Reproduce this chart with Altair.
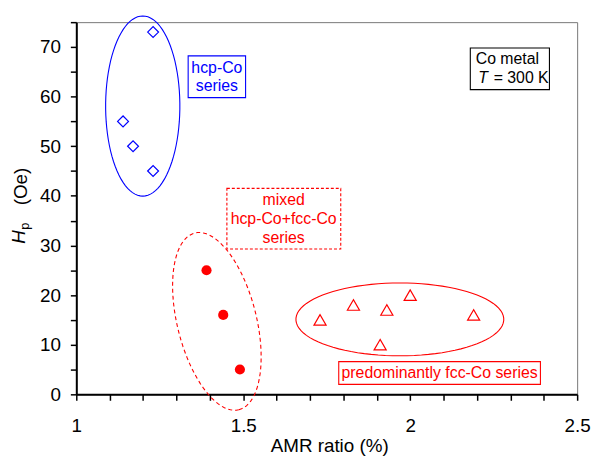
import math
import altair as alt
import pandas as pd

# ---------------- data ----------------
hcp_x = [1.23, 1.14, 1.17, 1.23]
hcp_y = [73, 55, 50, 45]
mixed_x = [1.39, 1.44, 1.49]
mixed_y = [25, 16, 5]
fcc_x = [1.73, 1.83, 1.93, 1.91, 2.00, 2.19]
fcc_y = [15, 18, 17, 10, 20, 16]

x_ticks = [round(1 + 0.1 * i, 1) for i in range(16)]
y_ticks = list(range(0, 80, 5))

X_DOM = [1, 2.5]
Y_DOM = [0, 75]
W, H = 506, 376
SX = W / (X_DOM[1] - X_DOM[0])   # px per x unit
SY = H / (Y_DOM[1] - Y_DOM[0])   # px per y unit

BLUE = "#0000ff"
RED = "#ff0000"
FONT = "Liberation Sans"


def ellipse(name, cx, cy, ax_px, ay_px, tilt_deg=0.0, n=90):
    rows = []
    phi = math.radians(tilt_deg)
    for i in range(n + 1):
        t = 2 * math.pi * i / n
        u = ay_px * math.cos(t)
        v = ax_px * math.sin(t)
        dx = u * math.sin(phi) + v * math.cos(phi)
        dy = u * math.cos(phi) - v * math.sin(phi)   # screen down
        rows.append({"name": name, "i": i, "x": cx + dx / SX, "y": cy - dy / SY})
    return rows


blue_ell = pd.DataFrame(ellipse("hcp", 1.199, 58.1, 37.5, 91.0))
fcc_ell = pd.DataFrame(ellipse("fcc", 1.969, 15.1, 105.0, 36.8))
mix_ell = pd.DataFrame(ellipse("mix", 1.421, 14.7, 40.0, 92.0, tilt_deg=14))

hcp_df = pd.DataFrame({"x": hcp_x, "y": hcp_y})
mix_df = pd.DataFrame({"x": mixed_x, "y": mixed_y})
fcc_df = pd.DataFrame({"x": fcc_x, "y": fcc_y})

xaxis = alt.Axis(
    values=x_ticks, title=None, grid=False, labelFlush=False, labelOverlap=False,
    labelExpr="abs(datum.value*2 - round(datum.value*2)) < 0.000001 ? toString(datum.value) : ''",
    domainColor="black", domainWidth=2, tickColor="black", tickWidth=1.5, tickSize=6,
    labelFont=FONT, labelFontSize=19, labelColor="black", labelPadding=17,
)
yaxis = alt.Axis(
    values=y_ticks, title=None, grid=False, labelOverlap=False,
    labelExpr="datum.value % 10 == 0 ? datum.label : ''",
    domainColor="black", domainWidth=2, tickColor="black", tickWidth=1.5, tickSize=6,
    labelFont=FONT, labelFontSize=19, labelColor="black", labelPadding=10,
)
xs = alt.Scale(domain=X_DOM, nice=False, zero=False)
ys = alt.Scale(domain=Y_DOM, nice=False, zero=False)


def X(f="x"):
    return alt.X(f"{f}:Q", scale=xs, axis=xaxis)


def Y(f="y"):
    return alt.Y(f"{f}:Q", scale=ys, axis=yaxis)


layers = []

# ellipses
layers.append(alt.Chart(blue_ell).mark_line(color=BLUE, strokeWidth=1.1).encode(
    x=X(), y=Y(), order="i:Q"))
layers.append(alt.Chart(fcc_ell).mark_line(color=RED, strokeWidth=1.1).encode(
    x=X(), y=Y(), order="i:Q"))
layers.append(alt.Chart(mix_ell).mark_line(color=RED, strokeWidth=1.1, strokeDash=[4, 3]).encode(
    x=X(), y=Y(), order="i:Q"))

# points
layers.append(alt.Chart(hcp_df).mark_point(shape="diamond", filled=False, color=BLUE,
                                           size=121, strokeWidth=1.2, opacity=1).encode(x=X(), y=Y()))
layers.append(alt.Chart(mix_df).mark_point(shape="circle", filled=True, color=RED,
                                           size=105, opacity=1).encode(x=X(), y=Y()))
layers.append(alt.Chart(fcc_df).mark_point(shape="triangle-up", filled=False, color=RED,
                                           size=150, strokeWidth=1.2, opacity=1).encode(x=X(), y=Y()))

# annotation boxes
box_names = ["hcp", "mixed", "cometal", "fcc"]
box_x1 = [1.335, 1.451, 2.180, 1.786]
box_x2 = [1.507, 1.792, 2.417, 2.390]
box_y1 = [59.8, 29.3, 61.4, 2.0]
box_y2 = [68.2, 41.5, 69.8, 6.6]
box_col = [BLUE, RED, "black", RED]
box_dash = [False, True, False, False]
boxes = pd.DataFrame({"name": box_names, "x": box_x1, "x2": box_x2, "y": box_y1, "y2": box_y2,
                      "col": box_col, "dash": box_dash})
for _, r in boxes.iterrows():
    kw = dict(fill=None, fillOpacity=0, stroke=r["col"], strokeWidth=1.1)
    if r["dash"]:
        kw["strokeDash"] = [3, 2]
    layers.append(alt.Chart(boxes[boxes.name == r["name"]]).mark_rect(**kw).encode(
        x=X(), x2="x2:Q", y=Y(), y2="y2:Q"))

# annotation texts
txt_label = ["hcp-Co", "series", "mixed", "hcp-Co+fcc-Co", "series", "Co metal",
             "predominantly fcc-Co series"]
txt_x = [1.421, 1.421, 1.621, 1.621, 1.621, 2.291, 2.088]
txt_y = [65.8, 62.2, 39.1, 35.3, 31.5, 67.6, 4.2]
txt_col = [BLUE, BLUE, RED, RED, RED, "black", RED]
txt = pd.DataFrame({"t": txt_label, "x": txt_x, "y": txt_y, "c": txt_col})
layers.append(alt.Chart(txt).mark_text(font=FONT, fontSize=16, align="center", baseline="middle").encode(
    x=X(), y=Y(), text="t:N", color=alt.Color("c:N", scale=None)))

t_df = pd.DataFrame({"x": [2.204, 2.250], "y": [63.8, 63.8], "t": ["T", "= 300 K"],
                     "st": ["italic", "normal"]})
layers.append(alt.Chart(t_df[t_df.st == "italic"]).mark_text(
    font=FONT, fontSize=16, fontStyle="italic", align="left", baseline="middle", color="black").encode(
    x=X(), y=Y(), text="t:N"))
layers.append(alt.Chart(t_df[t_df.st == "normal"]).mark_text(
    font=FONT, fontSize=16, align="left", baseline="middle", color="black").encode(
    x=X(), y=Y(), text="t:N"))

# axis titles as text
one = pd.DataFrame({"a": [0]})
layers.append(alt.Chart(one).mark_text(font=FONT, fontSize=19, align="center", baseline="middle",
                                       color="black", text="AMR ratio (%)").encode(
    x=alt.value(256), y=alt.value(428)))
layers.append(alt.Chart(one).mark_text(font=FONT, fontSize=19, align="center", baseline="middle",
                                       color="black", angle=270, text="(Oe)").encode(
    x=alt.value(-56), y=alt.value(166)))
layers.append(alt.Chart(one).mark_text(font=FONT, fontSize=19, fontStyle="italic", align="center",
                                       baseline="middle", color="black", angle=270, text="H").encode(
    x=alt.value(-58), y=alt.value(217)))
layers.append(alt.Chart(one).mark_text(font=FONT, fontSize=13, align="center",
                                       baseline="middle", color="black", angle=270, text="p").encode(
    x=alt.value(-52), y=alt.value(206)))

chart = alt.layer(*layers).properties(
    width=W, height=H,
    autosize=alt.AutoSizeParams(type="none"),
    padding={"left": 69, "top": 12, "right": 15, "bottom": 60},
    background="white",
).configure_view(stroke="#777777", strokeWidth=1)

chart.save("out.html", embed_options={"renderer": "svg", "actions": False})
